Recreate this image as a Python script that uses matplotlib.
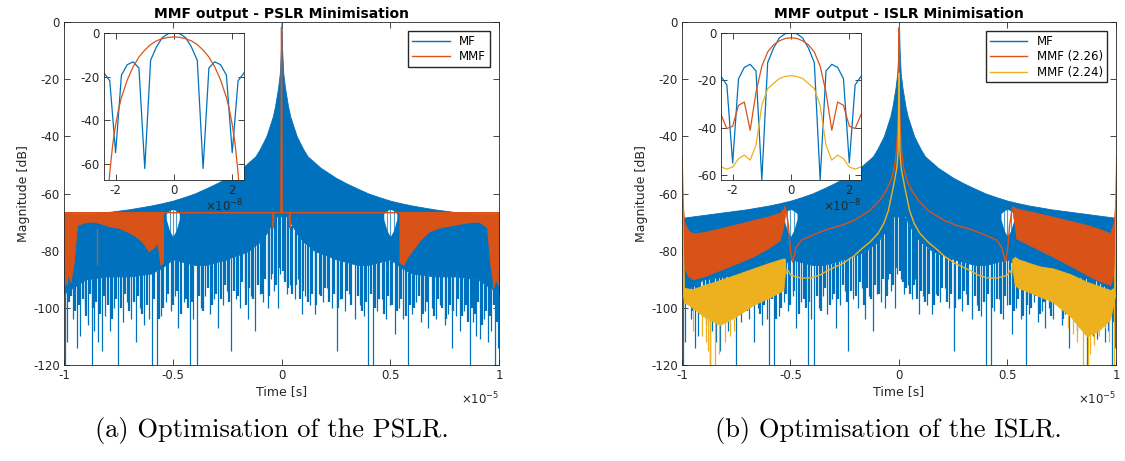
import numpy as np
import matplotlib
matplotlib.use("Agg")
import matplotlib.pyplot as plt
from matplotlib.lines import Line2D

plt.rcParams['font.family'] = 'DejaVu Sans'
plt.rcParams['axes.unicode_minus'] = False

BLUE = '#0072BD'
ORANGE = '#D95319'
YELLOW = '#EDB120'
DARK = '#262626'

# ---- main plots, time in units of 1e-5 s, magnitude in dB ----
# MF: dense oscillation drawn as envelope (upper / lower of the solid band)
mf_t = [-1.0, -0.9, -0.8, -0.7, -0.6, -0.55, -0.5, -0.45, -0.4, -0.35, -0.3, -0.25,
        -0.22, -0.18, -0.15, -0.12, -0.1, -0.07, -0.04, -0.03, -0.016, -0.008, -0.003, 0.0,
        0.003, 0.008, 0.016, 0.03, 0.04, 0.07, 0.1, 0.12, 0.15, 0.18, 0.22,
        0.25, 0.3, 0.35, 0.4, 0.45, 0.5, 0.55, 0.6, 0.7, 0.8, 0.9, 1.0]
mf_upper = [-68.5, -67.5, -66.5, -65.5, -64.2, -63.4, -62.5, -61.3, -60, -58.3, -56.5, -54.5,
            -53, -51, -49, -47, -44.5, -40, -33, -29.5, -23, -18, -10, 0,
            -10, -18, -23, -29.5, -33, -40, -44.5, -47, -49, -51, -53,
            -54.5, -56.5, -58.3, -60, -61.3, -62.5, -63.4, -64.2, -65.5, -66.5, -67.5, -68.5]
mf_lower = [-95, -90, -89, -89, -88, -86, -83, -84, -85, -85, -84, -83,
            -82, -81, -80, -78, -77, -74, -70, -68, -68, -68, -68, -68,
            -68, -68, -68, -68, -70, -74, -77, -78, -80, -81, -82,
            -83, -84, -85, -85, -84, -83, -86, -88, -89, -89, -90, -95]
# open gaps in the MF band around +-0.5, crossed by a few oscillation lines
gap_left_t = [-0.53, -0.515, -0.5, -0.485, -0.47]
gap_right_t = [0.47, 0.485, 0.5, 0.515, 0.53]
gap_hi = [-67, -66, -65.5, -66, -67]
gap_lo = [-69, -73, -75, -73, -69]
gap_lines_t = [-0.515, -0.5, -0.485, 0.485, 0.5, 0.515]
# deep nulls of the MF (position, depth)
spk_t = [-0.995, -0.985, -0.96, -0.94, -0.925, -0.905, -0.89, -0.873, -0.86, -0.845, -0.827,
         -0.81, -0.79, -0.77, -0.75, -0.73, -0.71, -0.69, -0.667, -0.65, -0.63, -0.61, -0.597,
         -0.574, -0.555, -0.53, -0.51, -0.49, -0.475, -0.45, -0.421, -0.405, -0.39, -0.37,
         -0.35, -0.33, -0.31, -0.29, -0.27, -0.25, -0.233, -0.21, -0.19, -0.17, -0.156, -0.14,
         -0.12, -0.1, -0.085, -0.064, -0.05, -0.035, -0.018, -0.008,
         0.01, 0.025, 0.04, 0.06, 0.075, 0.092, 0.11, 0.13, 0.153, 0.17, 0.19, 0.21, 0.23,
         0.253, 0.27, 0.29, 0.31, 0.337, 0.36, 0.38, 0.399, 0.422, 0.44, 0.46, 0.48, 0.5,
         0.521, 0.54, 0.56, 0.583, 0.6, 0.62, 0.64, 0.66, 0.675, 0.69, 0.71, 0.73, 0.75,
         0.765, 0.782, 0.8, 0.82, 0.84, 0.867, 0.88, 0.895, 0.912, 0.93, 0.95, 0.965, 0.982, 0.995]
spk_db = [-120, -112, -104, -114, -110, -100, -106, -120, -108, -112, -115,
          -103, -108, -100, -120, -105, -98, -104, -112, -100, -106, -104, -120,
          -120, -103, -98, -101, -96, -107, -98, -120, -104, -120, -100,
          -96, -102, -97, -107, -99, -94, -115, -97, -100, -93, -104, -96,
          -108, -95, -98, -100, -90, -94, -100, -88,
          -90, -95, -92, -97, -90, -102, -96, -99, -102, -95, -98, -93, -100,
          -115, -97, -101, -95, -104, -99, -103, -120, -120, -101, -97, -104, -99,
          -109, -100, -104, -120, -102, -98, -105, -101, -107, -100, -104, -99, -106,
          -102, -114, -103, -108, -101, -120, -105, -110, -111, -104, -112, -108, -120, -114]
# shallower nulls filling the ragged lower edge
spk2_t = [-0.978, -0.968, -0.95, -0.932, -0.915, -0.897, -0.88, -0.866, -0.853, -0.836,
          -0.818, -0.8, -0.78, -0.76, -0.74, -0.72, -0.7, -0.68, -0.658, -0.64,
          -0.62, -0.585, -0.565, -0.545, -0.52, -0.5, -0.482, -0.462, -0.44, -0.43,
          -0.413, -0.38, -0.36, -0.34, -0.32, -0.3, -0.28, -0.26, -0.24, -0.22,
          -0.2, -0.18, -0.163, -0.148, -0.13, -0.11, -0.092, -0.075, -0.057, -0.042,
          -0.026, -0.013,
          0.005, 0.018, 0.032, 0.05, 0.067, 0.083, 0.1, 0.12, 0.14, 0.16, 0.18, 0.2,
          0.22, 0.24, 0.26, 0.28, 0.3, 0.32, 0.35, 0.37, 0.39, 0.41, 0.43, 0.45, 0.47,
          0.49, 0.51, 0.53, 0.55, 0.57, 0.59, 0.61, 0.63, 0.65, 0.67, 0.7, 0.72, 0.74,
          0.757, 0.775, 0.79, 0.81, 0.83, 0.85, 0.858, 0.875, 0.888, 0.903, 0.92, 0.94,
          0.957, 0.975, 0.99]
spk2_db = [-98, -96, -101, -99, -97, -103, -95, -100, -98, -102,
           -96, -99, -104, -97, -100, -95, -101, -98, -96, -102,
           -99, -97, -104, -100, -95, -99, -94, -102, -97, -100,
           -98, -96, -101, -93, -99, -95, -97, -92, -98, -94,
           -96, -91, -99, -93, -97, -92, -95, -90, -96, -88,
           -92, -86,
           -87, -91, -93, -95, -92, -97, -94, -98, -95, -99, -96, -93,
           -98, -95, -100, -97, -94, -99, -96, -101, -98, -95, -100, -97, -102,
           -96, -99, -101, -97, -103, -99, -100, -96, -102, -98, -103, -97, -100,
           -104, -99, -101, -97, -103, -99, -105, -100, -102, -98, -106, -101,
           -103, -99, -105]

# MMF, PSLR minimisation: flat sidelobe level with filled edge regions
pslr_t = [-1.0, -0.04, -0.038, -0.036, -0.003, 0.0, 0.003, 0.036, 0.038, 0.04, 1.0]
pslr_db = [-66.7, -66.7, -72, -66.7, -66.7, -1.8, -66.7, -66.7, -72, -66.7, -66.7]
pslr_left_t = [-1.0, -0.995, -0.985, -0.97, -0.955, -0.94, -0.9, -0.865, -0.83, -0.788, -0.75,
               -0.711, -0.68, -0.65, -0.63, -0.61, -0.59, -0.57, -0.557, -0.545]
pslr_left_low = [-80, -92, -88, -91, -84, -71, -70, -69.8, -70.5, -71.5, -72,
                 -73.3, -74.5, -76.2, -78, -80.2, -79, -77.3, -85, -84]
pslr_right_t = [0.542, 0.56, 0.58, 0.6, 0.64, 0.677, 0.72, 0.754, 0.79, 0.83, 0.87, 0.907,
                0.93, 0.945, 0.96, 0.975, 0.985, 0.995, 1.0]
pslr_right_low = [-84, -85, -82, -80, -76, -73.3, -72, -71.5, -71, -70.4, -70, -69.8,
                  -71, -72, -85, -92.6, -90, -92, -80]
pslr_top = -66.7

# MMF (2.26), ISLR minimisation
o_left_t = [-1.0, -0.997, -0.99, -0.97, -0.949, -0.9, -0.826, -0.75, -0.672, -0.6, -0.549, -0.535, -0.526]
o_left_up = [-47, -62, -70, -73, -73.9, -73.5, -72.2, -70.8, -69.3, -68, -66.7, -65.5, -64.8]
o_left_low = [-47, -80, -86, -89, -90, -89, -86.8, -84.5, -82, -79, -76.3, -72, -68]
o_right_t = [0.526, 0.535, 0.54, 0.6, 0.71, 0.79, 0.866, 0.92, 0.973, 0.99, 0.997, 1.0]
o_right_up = [-64.6, -65, -65.2, -66.2, -68.1, -69.6, -71, -72.3, -73.9, -70, -62, -47]
o_right_low = [-68, -72, -75.7, -78, -82.1, -85.3, -88.5, -90.5, -92, -88, -80, -47]
o_mid_t = [-0.526, -0.52, -0.51, -0.5, -0.49, -0.475, -0.45, -0.39, -0.328, -0.26, -0.21, -0.174,
           -0.136, -0.09, -0.059, -0.035, -0.02, -0.012, -0.006, -0.002, 0.0,
           0.002, 0.006, 0.012, 0.02, 0.035, 0.059, 0.09, 0.136, 0.174, 0.21, 0.26,
           0.328, 0.39, 0.45, 0.475, 0.49, 0.5, 0.51, 0.52, 0.526]
o_mid_db = [-64.6, -66, -71, -80, -84, -79, -76.3, -74.3, -72.5, -71, -69.5, -67.8,
            -66, -62.5, -59, -55, -50.5, -45, -38, -25, -2.0,
            -25, -38, -45, -50.5, -55, -59, -62.5, -66, -67.8, -69.5, -71,
            -72.5, -74.3, -76.3, -79, -84, -80, -71, -66, -64.6]

# MMF (2.24), ISLR minimisation
y_left_t = [-1.0, -0.997, -0.99, -0.95, -0.9, -0.826, -0.75, -0.672, -0.6, -0.533, -0.526]
y_left_up = [-47, -75, -93, -93.5, -92, -90.3, -88.3, -86.2, -84.3, -82.7, -83]
y_left_low = [-47, -95, -98, -100, -103, -106, -103, -99, -96.5, -93.8, -88]
y_right_t = [0.526, 0.533, 0.55, 0.6, 0.65, 0.71, 0.79, 0.866, 0.92, 0.973, 0.99, 0.997, 1.0]
y_right_up = [-83, -82.1, -83, -84.3, -85.5, -86.2, -88.2, -90.9, -92.3, -93.8, -93, -75, -47]
y_right_low = [-88, -92, -93, -94.5, -96.1, -98, -103, -110, -108, -104, -98, -95, -47]
y_mid_t = [-0.526, -0.52, -0.51, -0.5, -0.48, -0.45, -0.405, -0.364, -0.33, -0.26, -0.21, -0.174,
           -0.134, -0.097, -0.07, -0.049, -0.026, -0.01, -0.004, -0.001, 0.0,
           0.001, 0.004, 0.01, 0.026, 0.049, 0.07, 0.097, 0.134, 0.174, 0.21, 0.26,
           0.33, 0.364, 0.405, 0.45, 0.48, 0.5, 0.51, 0.52, 0.526]
y_mid_db = [-83, -88, -87, -88.5, -89, -89.6, -89.5, -88.5, -87, -84.5, -82, -79.5,
            -77, -74, -70.5, -66, -57.6, -51, -45, -30, -18,
            -30, -45, -51, -57.6, -66, -70.5, -74, -77, -79.5, -82, -84.5,
            -87, -88.5, -89.5, -89.6, -89, -88.5, -87, -88, -83]
y_spk_t = [-0.95, -0.91, -0.89, -0.88, -0.87, -0.85, -0.83, -0.8, -0.78, -0.76,
           0.78, 0.8, 0.82, 0.85, 0.87, 0.88, 0.9, 0.92, 0.95, 0.97, 0.99]
y_spk_db = [-108, -110, -112, -115, -120, -120, -116, -112, -110, -108,
            -107, -109, -112, -120, -120, -116, -113, -110, -107, -112, -120]

# ---- insets, time in units of 1e-8 s ----
in_t = [-2.4, -2.2, -2.0, -1.8, -1.6, -1.4, -1.2, -1.0, -0.8, -0.6, -0.4, -0.2, 0.0,
        0.2, 0.4, 0.6, 0.8, 1.0, 1.2, 1.4, 1.6, 1.8, 2.0, 2.2, 2.4]
in_mf = [-18.3, -21.9, -54.8, -19.3, -14.5, -13.2, -16, -62, -12.5, -6.4, -2.1, -0.3, 0,
         -0.3, -2.1, -6.4, -12.5, -62, -16, -13.2, -14.5, -19.3, -54.8, -21.9, -18.3]
in_pslr_t = [-2.4, -2.25, -2.2, -2.1, -2.0, -1.9, -1.8, -1.6, -1.4, -1.2, -1.0, -0.8, -0.6,
             -0.4, -0.2, 0.0, 0.2, 0.4, 0.6, 0.8, 1.0, 1.2, 1.4, 1.6, 1.8, 1.9, 2.0, 2.1,
             2.2, 2.25, 2.4]
in_pslr = [-90, -72, -64, -51, -42, -35, -29.5, -21.5, -15.5, -11, -7.8, -5.3, -3.6,
           -2.6, -2.0, -1.8, -2.0, -2.6, -3.6, -5.3, -7.8, -11, -15.5, -21.5, -29.5, -35, -42, -51,
           -64, -72, -90]
in_226 = [-34.4, -40.3, -39.3, -30.5, -29.1, -41, -25, -14, -8, -5, -3.3, -2.3, -2.0,
          -2.3, -3.3, -5, -8, -14, -25, -41, -29.1, -30.5, -39.3, -40.3, -34.4]
in_224 = [-56.5, -57.4, -56.5, -53, -51.5, -53.6, -47.3, -30.5, -23.5, -21.3, -19.2, -18.3, -18,
          -18.3, -19.2, -21.3, -23.5, -30.5, -47.3, -53.6, -51.5, -53, -56.5, -57.4, -56.5]

x_ticks = [-1, -0.5, 0, 0.5, 1]
x_labels = ['-1', '-0.5', '0', '0.5', '1']
y_ticks = [-120, -100, -80, -60, -40, -20, 0]


def style(ax):
    ax.tick_params(direction='in', top=True, right=True, length=4, width=0.6,
                   colors=DARK, labelsize=8.5, pad=3)
    for s in ax.spines.values():
        s.set_color(DARK)
        s.set_linewidth(0.6)


def band(ax, t, low, high, color, lw=0.6):
    # everything at the same zorder so the drawing order decides what is on top
    ax.fill_between(t, low, high, facecolor=color, edgecolor=color, lw=lw, zorder=2)


def draw_mf(ax):
    band(ax, mf_t, mf_lower, mf_upper, BLUE)
    ax.vlines(spk_t, np.interp(spk_t, mf_t, mf_lower), spk_db, color=BLUE, lw=0.9, zorder=2)
    ax.vlines(spk2_t, np.interp(spk2_t, mf_t, mf_lower), spk2_db, color=BLUE, lw=1.6, zorder=2)
    band(ax, gap_left_t, gap_lo, gap_hi, 'white', lw=0)
    band(ax, gap_right_t, gap_lo, gap_hi, 'white', lw=0)
    ax.vlines(gap_lines_t, -77, -64, color=BLUE, lw=0.8, alpha=0.7, zorder=2)


def finish_main(ax, title):
    ax.set_xlim(-1, 1)
    ax.set_ylim(-120, 0)
    ax.set_xticks(x_ticks, x_labels)
    ax.set_yticks(y_ticks, [str(v) for v in y_ticks])
    ax.set_title(title, fontsize=10, fontweight='bold', pad=3)
    ax.set_xlabel('Time [s]', fontsize=9, color=DARK, labelpad=2)
    ax.set_ylabel('Magnitude [dB]', fontsize=9, color=DARK, labelpad=2)
    ax.text(1.0, -0.075, r'$\times10^{-5}$', transform=ax.transAxes, ha='right', va='top',
            fontsize=8.5, color=DARK)
    style(ax)


def finish_inset(ax, ybot):
    ax.set_xlim(-2.4, 2.4)
    ax.set_ylim(ybot, 0)
    ax.set_xticks([-2, 0, 2], ['-2', '0', '2'])
    ax.set_yticks([-60, -40, -20, 0], ['-60', '-40', '-20', '0'])
    ax.text(1.0, -0.12, r'$\times10^{-8}$', transform=ax.transAxes, ha='right', va='top',
            fontsize=8.5, color=DARK)
    style(ax)


fig = plt.figure(figsize=(11.25, 4.61), dpi=100)

# (a) PSLR
ax1 = fig.add_axes([0.0569, 0.2082, 0.3867, 0.7440])
draw_mf(ax1)
band(ax1, pslr_left_t, pslr_left_low, pslr_top, ORANGE)
band(ax1, pslr_right_t, pslr_right_low, pslr_top, ORANGE)
ax1.vlines([-0.985, -0.85, 0.97], [-80, -72, -80], [-92, -85, -93], color=ORANGE, lw=0.9, zorder=2)
ax1.plot(pslr_t, pslr_db, color=ORANGE, lw=1.0, zorder=2)
finish_main(ax1, 'MMF output - PSLR Minimisation')
ax1.legend([Line2D([], [], color=BLUE, lw=1), Line2D([], [], color=ORANGE, lw=1)],
           ['MF', 'MMF'], loc='upper right', fontsize=8.5, fancybox=False, framealpha=1,
           edgecolor=DARK, handlelength=3.2, borderaxespad=0.8, borderpad=0.3,
           labelspacing=0.2)

ins1 = fig.add_axes([0.0924, 0.6095, 0.1244, 0.3189])
ins1.plot(in_t, in_mf, color=BLUE, lw=0.9)
ins1.plot(in_pslr_t, in_pslr, color=ORANGE, lw=0.9)
finish_inset(ins1, -67.3)

# (b) ISLR
ax2 = fig.add_axes([0.6062, 0.2082, 0.3858, 0.7440])
draw_mf(ax2)
band(ax2, o_left_t, o_left_low, o_left_up, ORANGE)
band(ax2, o_right_t, o_right_low, o_right_up, ORANGE)
ax2.plot(o_mid_t, o_mid_db, color=ORANGE, lw=1.0, zorder=2)
band(ax2, y_left_t, y_left_low, y_left_up, YELLOW)
band(ax2, y_right_t, y_right_low, y_right_up, YELLOW)
ax2.vlines(y_spk_t, np.interp(y_spk_t, y_left_t + y_right_t, y_left_low + y_right_low),
           y_spk_db, color=YELLOW, lw=0.9, zorder=2)
ax2.plot(y_mid_t, y_mid_db, color=YELLOW, lw=1.0, zorder=2)
finish_main(ax2, 'MMF output - ISLR Minimisation')
ax2.legend([Line2D([], [], color=BLUE, lw=1), Line2D([], [], color=ORANGE, lw=1),
            Line2D([], [], color=YELLOW, lw=1)],
           ['MF', 'MMF (2.26)', 'MMF (2.24)'], loc='upper right', fontsize=8.5, fancybox=False,
           framealpha=1, edgecolor=DARK, handlelength=3.2, borderaxespad=0.8, borderpad=0.3,
           labelspacing=0.2)

ins2 = fig.add_axes([0.6409, 0.6095, 0.1244, 0.3189])
ins2.plot(in_t, in_mf, color=BLUE, lw=0.9)
ins2.plot(in_t, in_226, color=ORANGE, lw=0.9)
ins2.plot(in_t, in_224, color=YELLOW, lw=0.9)
finish_inset(ins2, -62)

fig.text(0.2413, 0.066, '(a) Optimisation of the PSLR.', ha='center', va='center',
         fontsize=19, family='cmr10')
fig.text(0.790, 0.066, '(b) Optimisation of the ISLR.', ha='center', va='center',
         fontsize=19, family='cmr10')

fig.savefig('out.png', dpi=100)
